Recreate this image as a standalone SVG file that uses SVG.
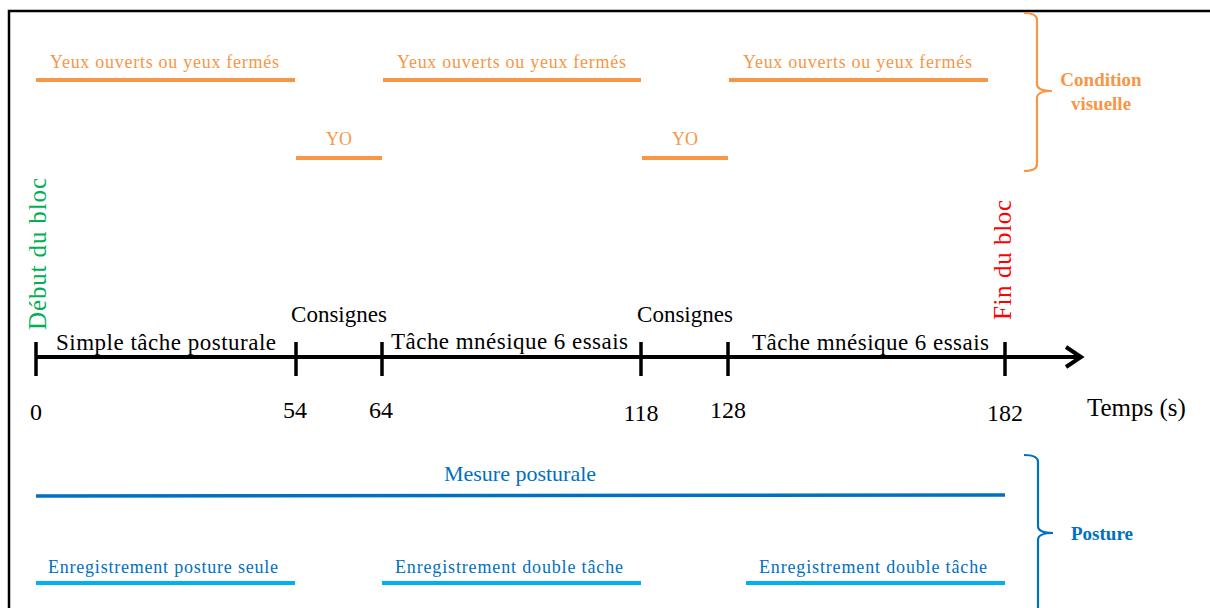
<svg xmlns="http://www.w3.org/2000/svg" width="1210" height="608" viewBox="0 0 1210 608" font-family="'Liberation Serif', Tinos, 'Times New Roman', Times, serif">
<style>
text{font-family:'Liberation Serif', Tinos, 'Times New Roman', Times, serif}
.or{fill:#F79646;font-size:18px}
.ol{stroke:#F79646;stroke-width:4;fill:none}
.ax{fill:#000;font-size:23px}
.num{fill:#000;font-size:24px;text-anchor:middle}
.tick{stroke:#000;stroke-width:3.5}
.lb{stroke:#00B0F0;stroke-width:4}
.lbt{fill:#0070C0;font-size:18px}
.br{fill:none;stroke-width:2.2}
</style>
<rect x="9" y="11" width="1215" height="620" fill="#fff" stroke="#000" stroke-width="2.5"/>
<g id="vision">
<g id="yf1"><line class="ol" x1="36" y1="80" x2="295" y2="80"/><text class="or" x="50" y="68" textLength="229">Yeux ouverts ou yeux fermés</text></g>
<g id="yo1"><line class="ol" x1="296" y1="158" x2="382" y2="158"/><text class="or" x="339" y="145" text-anchor="middle">YO</text></g>
<g id="yf2"><line class="ol" x1="383" y1="80" x2="641" y2="80"/><text class="or" x="397" y="68" textLength="229">Yeux ouverts ou yeux fermés</text></g>
<g id="yo2"><line class="ol" x1="642" y1="158" x2="728" y2="158"/><text class="or" x="685" y="145" text-anchor="middle">YO</text></g>
<g id="yf3"><line class="ol" x1="729" y1="80" x2="988" y2="80"/><text class="or" x="743" y="68" textLength="229">Yeux ouverts ou yeux fermés</text></g>
</g>
<g id="cond">
<path class="br" stroke="#F79646" d="M1024,13 Q1037,13 1037,20 L1037,84 Q1037,91 1052,91 Q1037,91 1037,98 L1037,164 Q1037,171 1024,171"/>
<text x="1101" y="86" font-size="19" font-weight="bold" fill="#F79646" text-anchor="middle">Condition</text>
<text x="1101" y="110" font-size="19" font-weight="bold" fill="#F79646" text-anchor="middle">visuelle</text>
</g>
<g id="connectors">
<line x1="36" y1="357" x2="1080" y2="357" stroke="#000" stroke-width="4"/>
<polyline points="1066,347 1081,357 1066,367" fill="none" stroke="#000" stroke-width="4"/>
<line class="tick" x1="36" y1="342" x2="36" y2="376"/>
<line class="tick" x1="296" y1="342" x2="296" y2="376"/>
<line class="tick" x1="382" y1="342" x2="382" y2="376"/>
<line class="tick" x1="641" y1="342" x2="641" y2="376"/>
<line class="tick" x1="728" y1="342" x2="728" y2="376"/>
<line class="tick" x1="1005" y1="342" x2="1005" y2="376"/>
</g>
<g id="axislabels">
<text class="ax" x="56" y="350" textLength="220">Simple tâche posturale</text>
<text class="ax" x="339" y="322" text-anchor="middle">Consignes</text>
<text class="ax" x="391" y="349" textLength="237">Tâche mnésique 6 essais</text>
<text class="ax" x="685" y="322" text-anchor="middle">Consignes</text>
<text class="ax" x="752" y="350" textLength="237">Tâche mnésique 6 essais</text>
<text fill="#00B050" font-size="25" transform="translate(46,330) rotate(-90)" textLength="152">Début du bloc</text>
<text fill="#FF0000" font-size="25" transform="translate(1011,320) rotate(-90)" textLength="120">Fin du bloc</text>
</g>
<g id="numbers">
<text class="num" x="36" y="420">0</text>
<text class="num" x="295" y="418">54</text>
<text class="num" x="381" y="418">64</text>
<text class="num" x="641" y="421">118</text>
<text class="num" x="728" y="418">128</text>
<text class="num" x="1005" y="421">182</text>
<text x="1087" y="416" font-size="25" fill="#000">Temps (s)</text>
</g>
<g id="mesure">
<line x1="36" y1="496" x2="1005" y2="495" stroke="#0070C0" stroke-width="3.5"/>
<text x="520" y="481" font-size="22" fill="#0070C0" text-anchor="middle">Mesure posturale</text>
</g>
<g id="enreg1"><line class="lb" x1="36" y1="583" x2="295" y2="583"/><text class="lbt" x="48" y="573" textLength="230">Enregistrement posture seule</text></g>
<g id="enreg2"><line class="lb" x1="382" y1="583" x2="641" y2="583"/><text class="lbt" x="395" y="573" textLength="228">Enregistrement double tâche</text></g>
<g id="enreg3"><line class="lb" x1="746" y1="583" x2="1005" y2="583"/><text class="lbt" x="759" y="573" textLength="228">Enregistrement double tâche</text></g>
<g id="posture">
<path class="br" stroke="#0070C0" d="M1024,455 Q1038,455 1038,462 L1038,526 Q1038,533 1053,533 Q1038,533 1038,540 L1038,615"/>
<text x="1071" y="540" font-size="19" font-weight="bold" fill="#0070C0">Posture</text>
</g>
</svg>
